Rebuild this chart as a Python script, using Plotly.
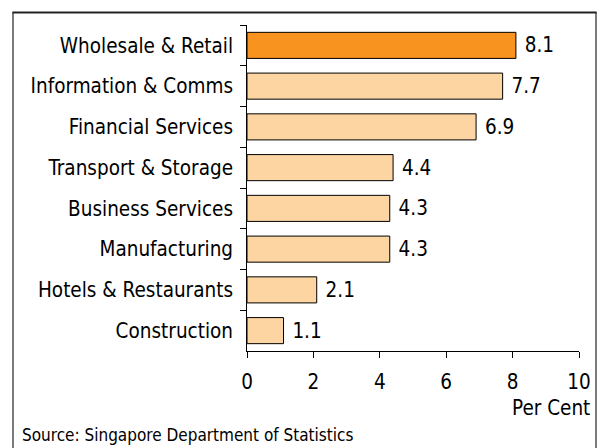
import plotly.graph_objects as go

categories = ["Wholesale & Retail", "Information & Comms", "Financial Services",
              "Transport & Storage", "Business Services", "Manufacturing",
              "Hotels & Restaurants", "Construction"]
values = [8.1, 7.7, 6.9, 4.4, 4.3, 4.3, 2.1, 1.1]
highlight = "Wholesale & Retail"
x_ticks = [0, 2, 4, 6, 8, 10]

colors = ["#F7931E" if c == highlight else "#FDD5A3" for c in categories]
FONT = "DejaVu Sans Condensed"
FS = 20.5

fig = go.Figure(go.Bar(
    y=categories, x=values, orientation="h",
    marker=dict(color=colors, line=dict(color="black", width=1)),
    text=[f" {v:.1f}" for v in values], textposition="outside",
    textfont=dict(family=FONT, size=FS, color="black"),
    cliponaxis=False, width=0.64,
))

W, H = 598, 448
L, T = 247, 25
R = W - 579
B = H - 351
pw, ph = W - L - R, H - T - B

def px(sx):
    return (sx - L) / pw

def py(sy):
    return (H - B - sy) / ph

line = dict(color="#222222", width=1.2)
fig.update_layout(
    width=W, height=H, margin=dict(l=L, r=R, t=T, b=B, autoexpand=False),
    paper_bgcolor="white", plot_bgcolor="white", showlegend=False,
    font=dict(family=FONT, size=FS, color="black"),
    xaxis=dict(range=[0, 10], tickvals=x_ticks, ticks="outside", ticklen=6,
               tickcolor="black", showline=True, linecolor="black", linewidth=1,
               showgrid=False, zeroline=False, tickfont=dict(size=FS),
               ticklabelstandoff=6),
    yaxis=dict(autorange="reversed", ticks="outside", ticklen=6, tickcolor="black",
               tickson="boundaries", showline=True, linecolor="black", linewidth=1,
               showgrid=False, tickfont=dict(size=FS), ticksuffix=" ",
               ticklabelstandoff=3),
    shapes=[
        dict(type="line", xref="paper", yref="paper", x0=px(12.5), x1=px(596.5),
             y0=py(12.5), y1=py(12.5), line=dict(color="#222222", width=2)),
        dict(type="line", xref="paper", yref="paper", x0=px(13), x1=px(13),
             y0=py(12), y1=py(460), line=line),
        dict(type="line", xref="paper", yref="paper", x0=px(596), x1=px(596),
             y0=py(12), y1=py(460), line=line),
    ],
    annotations=[
        dict(text="Per Cent", xref="paper", yref="paper", x=px(592), y=py(408),
             xanchor="right", yanchor="middle", showarrow=False,
             font=dict(family=FONT, size=FS)),
        dict(text="Source: Singapore Department of Statistics", xref="paper", yref="paper",
             x=px(20), y=py(435), xanchor="left", yanchor="middle", showarrow=False,
             font=dict(family=FONT, size=17)),
    ],
)

fig.write_html("out.html", config={"displayModeBar": False},
               post_script="document.body.style.margin='0';document.body.style.overflow='hidden';")
